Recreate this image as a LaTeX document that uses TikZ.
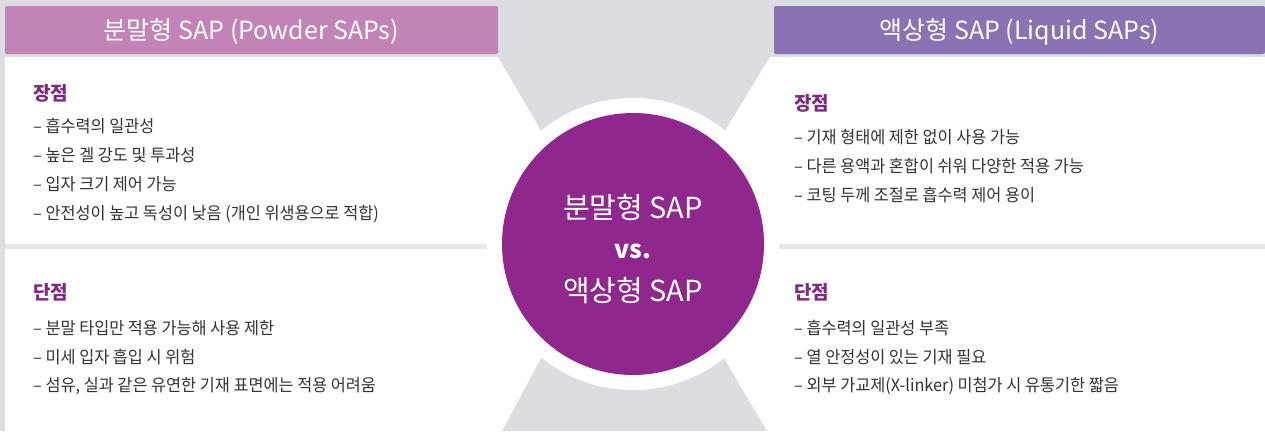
\documentclass[tikz,border=0pt]{standalone}
\usepackage{fontspec}
\setmainfont{Noto Sans CJK KR}
\newfontfamily\itemfont[FakeStretch=0.96]{Noto Sans CJK KR}
\definecolor{bggray}{HTML}{DCDDE0}
\definecolor{divgray}{HTML}{E6E7E8}
\definecolor{hdrleft}{HTML}{C283B6}
\definecolor{hdrright}{HTML}{8A73B3}
\definecolor{circpurple}{HTML}{8F278D}
\definecolor{titlepurple}{HTML}{7D2A80}
\definecolor{itemgray}{HTML}{333333}
\begin{document}
\begin{tikzpicture}[x=1pt,y=-1pt,
  hdrtext/.style={text=white,font=\fontsize{25}{28}\selectfont,anchor=base,inner sep=0pt},
  sectitle/.style={text=titlepurple,font=\bfseries\fontsize{19}{22}\selectfont,anchor=base west,inner sep=0pt},
  itemtext/.style={text=itemgray,font=\itemfont\fontsize{17}{20}\selectfont,anchor=base west,inner sep=0pt},
  circtext/.style={text=white,font=\fontsize{29}{32}\selectfont,anchor=base,inner sep=0pt}]
\useasboundingbox (0,0) rectangle (1265,431);
% background
\fill[bggray] (0,0) rectangle (1265,431);
% white panels with wedges
\fill[white] (5,57) -- (498,57) -- (541,131) -- (725,131) -- (770,57) -- (1265,57)
  -- (1265,431) -- (767,431) -- (724,358) -- (541,358) -- (502,431) -- (5,431) -- cycle;
% headers
\fill[hdrleft,rounded corners=2pt] (5,54) -- (5,6) -- (498,6) -- (498,54) -- cycle;
\fill[hdrright,rounded corners=2pt] (774,54) -- (774,6) -- (1265,6) -- (1265,54) -- cycle;
% dividers
\fill[divgray] (5,244) rectangle (488,248.5);
\fill[divgray] (777,244) rectangle (1265,248.5);
% ring and circle
\fill[white] (633,244) circle[radius=146];
\node[circle,fill=circpurple,minimum size=262pt,inner sep=0pt] (center) at (633,244) {};
% header texts
\node[hdrtext] (hl) at (251.5,39) {분말형 SAP (Powder SAPs)};
\node[hdrtext] (hr) at (1019.5,39) {액상형 SAP (Liquid SAPs)};
% circle texts
\node[circtext] (c1) at (633,218) {분말형 SAP};
\node[circtext,font=\bfseries\fontsize{25}{28}\selectfont] (c2) at (633,258) {vs.};
\node[circtext] (c3) at (633,301) {액상형 SAP};
% left panel
\node[sectitle] (lpt) at (33,100) {장점};
\node[itemtext] (lp1) at (33,132) {– 흡수력의 일관성};
\node[itemtext] (lp2) at (33,161) {– 높은 겔 강도 및 투과성};
\node[itemtext] (lp3) at (33,190) {– 입자 크기 제어 가능};
\node[itemtext] (lp4) at (33,219) {– 안전성이 높고 독성이 낮음 (개인 위생용으로 적합)};
\node[sectitle] (lct) at (33,299) {단점};
\node[itemtext] (lc1) at (33,334) {– 분말 타입만 적용 가능해 사용 제한};
\node[itemtext] (lc2) at (33,363) {– 미세 입자 흡입 시 위험};
\node[itemtext] (lc3) at (33,391) {– 섬유, 실과 같은 유연한 기재 표면에는 적용 어려움};
% right panel
\node[sectitle] (rpt) at (794,110) {장점};
\node[itemtext] (rp1) at (794,143) {– 기재 형태에 제한 없이 사용 가능};
\node[itemtext] (rp2) at (794,172) {– 다른 용액과 혼합이 쉬워 다양한 적용 가능};
\node[itemtext] (rp3) at (794,201) {– 코팅 두께 조절로 흡수력 제어 용이};
\node[sectitle] (rct) at (794,299) {단점};
\node[itemtext] (rc1) at (794,334) {– 흡수력의 일관성 부족};
\node[itemtext] (rc2) at (794,363) {– 열 안정성이 있는 기재 필요};
\node[itemtext] (rc3) at (794,391) {– 외부 가교제(X-linker) 미첨가 시 유통기한 짧음};
\end{tikzpicture}
\end{document}
